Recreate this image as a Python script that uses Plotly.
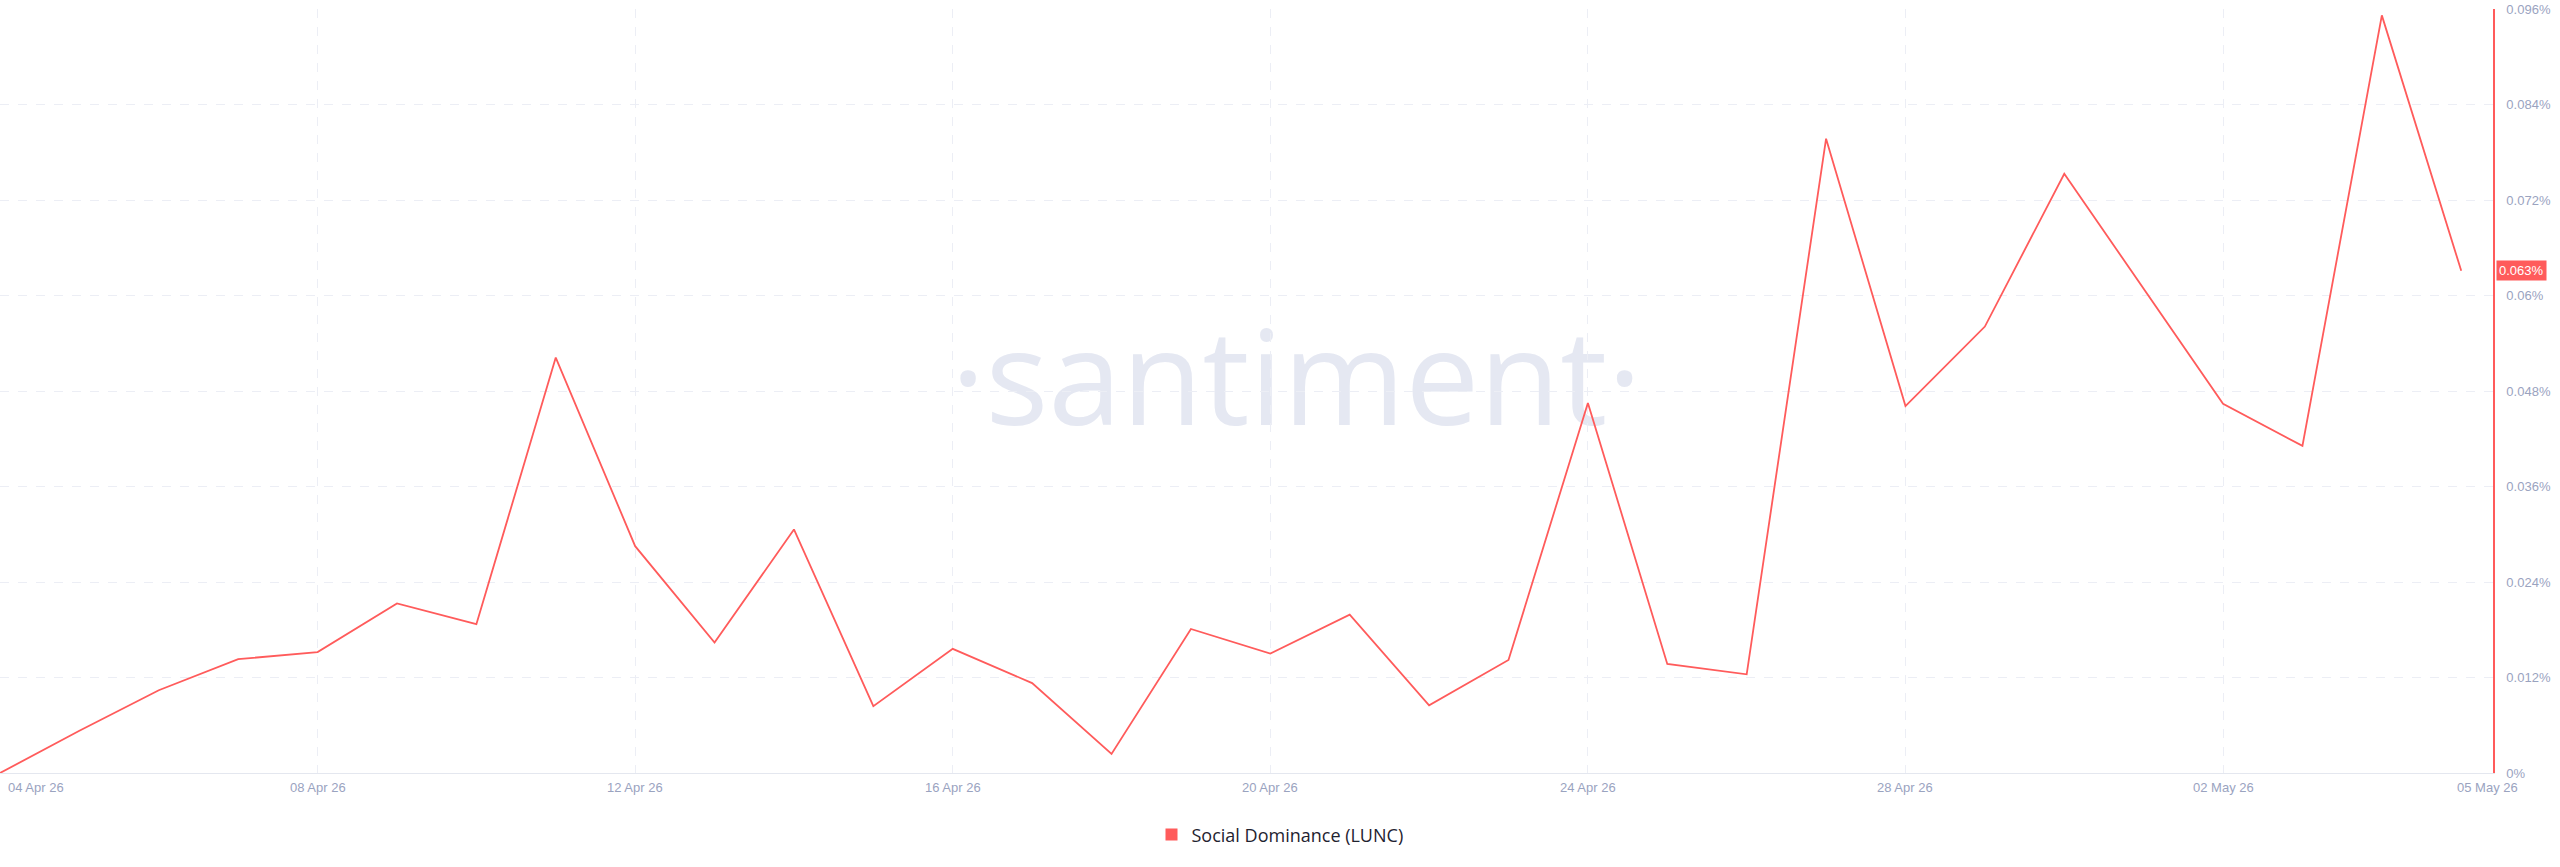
import pandas as pd
import plotly.graph_objects as go

# ---------------- data ----------------
dates = pd.date_range("2026-04-04", "2026-05-05", freq="D")
social_dominance = [
    0.0000, 0.0053, 0.0104, 0.0143, 0.0152, 0.0213, 0.0187, 0.0522,
    0.0285, 0.0164, 0.0306, 0.0084, 0.0156, 0.0113, 0.0024, 0.0181,
    0.0150, 0.0199, 0.0085, 0.0142, 0.0465, 0.0137, 0.0124, 0.0797,
    0.0461, 0.0561, 0.0753, 0.0608, 0.0464, 0.0411, 0.0952, 0.0631,
]
series_name = "Social Dominance (LUNC)"

x_tick_dates = ["2026-04-04", "2026-04-08", "2026-04-12", "2026-04-16",
                "2026-04-20", "2026-04-24", "2026-04-28", "2026-05-02"]
x_tick_labels = ["04 Apr 26", "08 Apr 26", "12 Apr 26", "16 Apr 26",
                 "20 Apr 26", "24 Apr 26", "28 Apr 26", "02 May 26"]
x_end_label = "05 May 26"

y_ticks = [0, 0.012, 0.024, 0.036, 0.048, 0.06, 0.072, 0.084, 0.096]
y_tick_labels = ["0%", "0.012%", "0.024%", "0.036%", "0.048%", "0.06%",
                 "0.072%", "0.084%", "0.096%"]

# ---------------- style ----------------
RED = "#ff5b5b"
TICK_COLOR = "#9aa3bf"
GRID_COLOR = "#eceef5"
FONT = "Liberation Sans, Arial, sans-serif"

fig = go.Figure()
fig.add_trace(go.Scatter(
    x=dates, y=social_dominance, mode="lines",
    line=dict(color=RED, width=1.8), showlegend=False, hoverinfo="skip",
))
# legend entry (square swatch)
fig.add_trace(go.Scatter(
    x=[None], y=[None], mode="markers", name=series_name,
    marker=dict(symbol="square", size=12, color=RED), showlegend=True,
))

annotations = []
for i, (d, lab) in enumerate(zip(x_tick_dates, x_tick_labels)):
    annotations.append(dict(
        x=d, y=0, xref="x", yref="paper", text=lab, showarrow=False,
        xanchor="left" if i == 0 else "center", xshift=6 if i == 0 else 0,
        yanchor="middle", yshift=-14,
        font=dict(family=FONT, size=13, color=TICK_COLOR),
    ))
annotations.append(dict(
    x=1, y=0, xref="paper", yref="paper", text=x_end_label, showarrow=False,
    xanchor="center", xshift=-6, yanchor="middle", yshift=-14,
    font=dict(family=FONT, size=13, color=TICK_COLOR),
))
# last value badge
annotations.append(dict(
    x=1, y=social_dominance[-1], xref="paper", yref="y",
    text=f"{social_dominance[-1]:.3f}%", showarrow=False,
    xanchor="left", xshift=3, yanchor="middle",
    bgcolor=RED, borderpad=2,
    font=dict(family=FONT, size=13, color="#ffffff"),
))

fig.update_layout(
    width=2560, height=867,
    margin=dict(l=0, r=67, t=9, b=94),
    paper_bgcolor="#ffffff", plot_bgcolor="#ffffff",
    xaxis=dict(
        type="date",
        range=[dates[0], dates[-1] + pd.Timedelta(hours=9.6)],
        tickvals=x_tick_dates, showticklabels=False, ticks="",
        showgrid=True, gridcolor=GRID_COLOR, griddash="9px,9px", gridwidth=1,
        showline=True, linecolor="#e4e7ef", linewidth=1, zeroline=False,
    ),
    yaxis=dict(
        side="right", range=[0, 0.096],
        tickvals=y_ticks, ticktext=y_tick_labels, ticks="",
        ticklabelstandoff=9,
        tickfont=dict(family=FONT, size=13, color=TICK_COLOR),
        showgrid=True, gridcolor=GRID_COLOR, griddash="9px,9px", gridwidth=1,
        showline=True, linecolor=RED, linewidth=1.5, zeroline=False,
    ),
    legend=dict(
        orientation="h", xref="container", yref="container",
        x=0.5, xanchor="center", y=0.037, yanchor="middle",
        font=dict(family="Open Sans, sans-serif", size=18, color="#1f2330"),
        bgcolor="rgba(0,0,0,0)",
    ),
    annotations=annotations,
    shapes=[dict(
        type="rect", xref="paper", yref="paper",
        x0=0.32, x1=0.72, y0=0.37, y1=0.65,
        line=dict(width=0), fillcolor="rgba(0,0,0,0)", layer="below",
        label=dict(text="·santiment·", textposition="middle center",
                   font=dict(family="Open Sans, sans-serif", size=132,
                             color="#e5e8f2")),
    )],
    hovermode=False,
)

fig.write_html(
    "out.html",
    config={"displayModeBar": False},
    post_script="document.body.style.margin='0';document.body.style.overflow='hidden';",
)
